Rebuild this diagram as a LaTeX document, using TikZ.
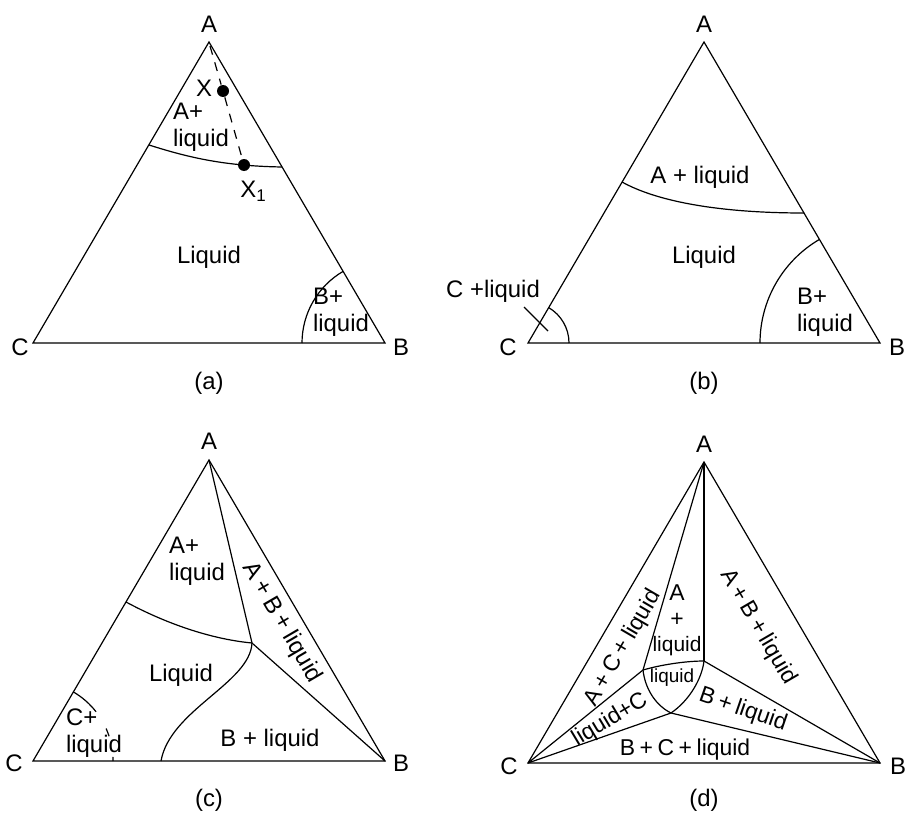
\documentclass[tikz,border=0pt]{standalone}
\usepackage{fontspec}
\setmainfont{Liberation Sans}
\begin{document}
\begin{tikzpicture}[x=1bp,y=-1bp, line width=1.2bp,
  lbl/.style={font=\fontsize{24}{27}\selectfont, inner sep=0pt, align=left},
  dlbl/.style={font=\fontsize{23}{26}\selectfont, inner sep=0pt, align=left},
  vlbl/.style={font=\fontsize{24}{26}\selectfont, inner sep=0pt},
  smalllbl/.style={font=\fontsize{19}{21}\selectfont, inner sep=0pt},
  dot/.style={circle, fill=black, inner sep=0pt, minimum size=12bp},
  dashline/.style={dash pattern=on 9bp off 8bp}]
\useasboundingbox (0,0) rectangle (915,822);
\newcommand{\pl}{\hspace{0.2em}+\hspace{0.2em}}

% ---------------- (a) ----------------
\begin{scope}
\coordinate (aA) at (209,42);
\coordinate (aC) at (33,343);
\coordinate (aB) at (385,343);
\draw (aA) -- (aB) -- (aC) -- cycle;
\node[vlbl] (aLA) at (209,24) {A};
\node[vlbl] (aLC) at (20,347) {C};
\node[vlbl] (aLB) at (401,347) {B};
\coordinate (aL1) at (149,145);
\coordinate (aL2) at (282,167);
\draw (aL1) .. controls (190,158) and (225,166) .. (aL2);
\coordinate (aTop) at (210,46);
\node[dot] (aX) at (223,91) {};
\node[dot] (aX1) at (244,165) {};
\draw[dashline] (aTop) -- (aX) -- (aX1);
\node[vlbl] (aXl) at (204,88) {X};
\node[vlbl] (aX1l) at (253,191) {X\raisebox{-0.35ex}{\fontsize{17}{17}\selectfont 1}};
\node[lbl] (aAliq) at (201,127) {A+\\liquid};
\node[lbl] (aLiq) at (209,257) {Liquid};
\coordinate (aBarc) at (302,343);
\draw (aBarc) arc[start angle=180, end angle=120.3, radius=83bp];
\node[lbl] (aBliq) at (341,312) {B+\\liquid};
\node[vlbl] (acap) at (209,383) {(a)};
\end{scope}

% ---------------- (b) ----------------
\begin{scope}[shift={(495,0)}]
\coordinate (bA) at (209,42);
\coordinate (bC) at (33,343);
\coordinate (bB) at (385,343);
\draw (bA) -- (bB) -- (bC) -- cycle;
\node[vlbl] (bLA) at (209,24) {A};
\node[vlbl] (bLC) at (13,347) {C};
\node[vlbl] (bLB) at (402,347) {B};
\coordinate (bL1) at (127,182);
\coordinate (bL2) at (309,213);
\draw (bL1) .. controls (165,203) and (230,213) .. (bL2);
\node[lbl] (bAliq) at (205,177) {A + liquid};
\node[lbl] (bLiq) at (209,257) {Liquid};
\coordinate (bBarc) at (265,343);
\draw (bBarc) arc[start angle=180, end angle=120.3, radius=120bp];
\node[lbl] (bBliq) at (330,312) {B+\\liquid};
\coordinate (bCarc) at (74,343);
\draw (bCarc) arc[start angle=0, end angle=59.7, radius=41bp];
\coordinate (bT1) at (29,307);
\coordinate (bT2) at (53,331);
\draw (bT1) -- (bT2);
\node[lbl] (bCliq) at (-2,291) {C +liquid};
\node[vlbl] (bcap) at (209,383) {(b)};
\end{scope}

% ---------------- (c) ----------------
\begin{scope}[shift={(0,418)}]
\coordinate (cA) at (209,42);
\coordinate (cC) at (33,343);
\coordinate (cB) at (385,343);
\coordinate (cP) at (252,225);
\draw (cA) -- (cB) -- (cC) -- cycle;
\node[vlbl] (cLA) at (209,23) {A};
\node[vlbl] (cLC) at (14,345) {C};
\node[vlbl] (cLB) at (401,345) {B};
\coordinate (cL1) at (126,184);
\draw (cL1) .. controls (165,205) and (210,221) .. (cP);
\draw (cA) -- (cP) -- (cB);
\coordinate (cS) at (161,343);
\draw (cP) .. controls (250,265) and (170,292) .. (cS);
\draw ([shift={(60:80bp)}]cC) arc[start angle=60, end angle=38, radius=80bp];
\draw ([shift={(24:80bp)}]cC) arc[start angle=24, end angle=18, radius=80bp];
\draw ([shift={(3:80bp)}]cC) arc[start angle=3, end angle=0, radius=80bp];
\node[lbl] (cAliq) at (197,143) {A+\\liquid};
\node[lbl, rotate=-59.7] (cABliq) at (282,205) {A\pl B\pl liquid};
\node[lbl] (cLiq) at (181,257) {Liquid};
\node[lbl] (cBliq) at (270,322) {B + liquid};
\node[lbl] (cCliq) at (94,315) {C+\\liquid};
\node[vlbl] (ccap) at (209,382) {(c)};
\end{scope}

% ---------------- (d) ----------------
\begin{scope}[shift={(495,420)}]
\coordinate (dA) at (209,42);
\coordinate (dC) at (33,343);
\coordinate (dB) at (385,343);
\coordinate (dQ1) at (148,250);
\coordinate (dQ2) at (209,241);
\coordinate (dQ3) at (176,293);
\draw (dA) -- (dB) -- (dC) -- cycle;
\node[vlbl] (dLA) at (209,24) {A};
\node[vlbl] (dLC) at (14,346) {C};
\node[vlbl] (dLB) at (403,346) {B};
\draw (dA) -- (dQ1);
\draw (dA) -- (dQ2);
\draw (dC) -- (dQ1);
\draw (dC) -- (dQ3);
\draw (dB) -- (dQ2);
\draw (dB) -- (dQ3);
\draw (dQ1) .. controls (165,245) and (190,241) .. (dQ2);
\draw (dQ1) .. controls (150,268) and (160,285) .. (dQ3);
\draw (dQ2) .. controls (207,258) and (195,280) .. (dQ3);
\node[dlbl, rotate=59.7] (dACliq) at (128,228) {A\pl C\pl liquid};
\node[dlbl] (dAa) at (182,173) {A};
\node[dlbl] (dAp) at (182,200) {+};
\node[font=\fontsize{21}{23}\selectfont, inner sep=0pt] (dAl) at (182,226) {liquid};
\node[smalllbl] (dliq) at (177,258) {liquid};
\node[dlbl, rotate=31] (dlC) at (115,300) {liquid+C};
\node[dlbl, rotate=-19] (dBliq) at (248,290) {B\pl liquid};
\node[dlbl] (dBCliq) at (190,330) {B\pl C\pl liquid};
\node[dlbl, rotate=-59.7] (dABliq) at (263,207) {A\pl B\pl liquid};
\node[vlbl] (dcap) at (209,380) {(d)};
\end{scope}
\end{tikzpicture}
\end{document}
